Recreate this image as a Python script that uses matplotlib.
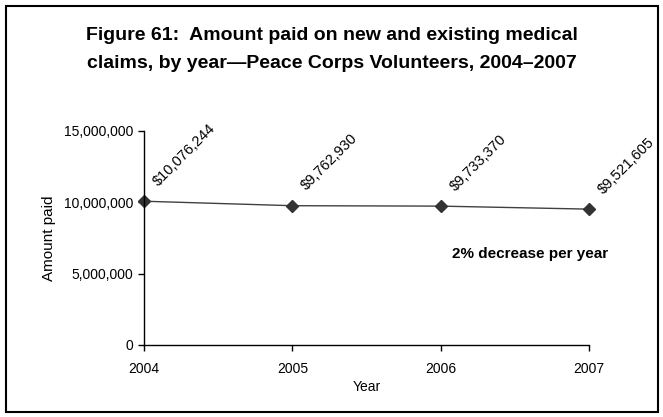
import matplotlib
matplotlib.use("Agg")
import matplotlib.pyplot as plt
from matplotlib.patches import Rectangle
from matplotlib.ticker import FuncFormatter

years = ["2004", "2005", "2006", "2007"]
amounts = [10076244, 9762930, 9733370, 9521605]
labels = ["$10,076,244", "$9,762,930", "$9,733,370", "$9,521,605"]

plt.rcParams["font.family"] = ["Liberation Sans", "DejaVu Sans"]

fig = plt.figure(figsize=(6.63, 4.17), dpi=100)
fig.patches.append(Rectangle((0.009, 0.012), 0.983, 0.973, transform=fig.transFigure,
                             fill=False, edgecolor="black", linewidth=1.5))

ax = fig.add_axes([0.2172, 0.1727, 0.6712, 0.5132])
x = list(range(len(years)))
ax.plot(x, amounts, color="#404040", linewidth=1.0, marker="D", markersize=6,
        markerfacecolor="#333333", markeredgecolor="#333333", clip_on=False)

for xi, yi, lab in zip(x, amounts, labels):
    ax.annotate(lab, (xi, yi), xytext=(12, 9), textcoords="offset points",
                rotation=45, rotation_mode="anchor", ha="left", va="bottom", fontsize=10.5)

ax.set_xlim(0, 3)
ax.set_ylim(0, 15000000)
ax.set_yticks([0, 5000000, 10000000, 15000000])
ax.yaxis.set_major_formatter(FuncFormatter(lambda v, p: f"{int(v):,}"))
ax.set_xticks(x)
ax.set_xticklabels(years)
ax.tick_params(axis="both", direction="out", length=4, labelsize=10, width=1)
ax.tick_params(axis="x", pad=8)
ax.spines["top"].set_visible(False)
ax.spines["right"].set_visible(False)
ax.spines["left"].set_linewidth(1)
ax.spines["bottom"].set_linewidth(1)
ax.set_xlabel("Year", fontsize=10, labelpad=3)
ax.set_ylabel("Amount paid", fontsize=11, labelpad=6)

ax.text(2.6, 6350000, "2% decrease per year", ha="center",
        va="center", fontsize=11, fontweight="bold")

fig.text(0.5, 0.882, "Figure 61:  Amount paid on new and existing medical\n"
         "claims, by year\u2014Peace Corps Volunteers, 2004\u20132007",
         ha="center", va="center", fontsize=14, fontweight="bold", linespacing=1.85)

fig.savefig("out.png", dpi=100)
